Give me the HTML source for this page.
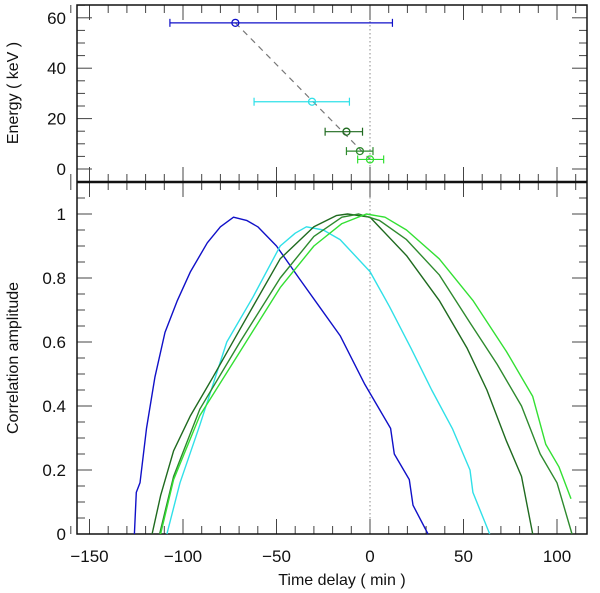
<!DOCTYPE html>
<html><head><meta charset="utf-8"><style>
body{margin:0;background:#fff}
svg{display:block;font-family:"Liberation Sans","DejaVu Sans",sans-serif}
</style></head><body>
<svg id="c" width="600" height="593"></svg>
<script>
const tickX=[-150,-100,-50,0,50,100];
const tickYTop=[0,20,40,60];
const tickYBot=[0,0.2,0.4,0.6,0.8,1];
const tickYBotLabels=["0","0.2","0.4","0.6","0.8","1"];
const energies=[58,26.7,14.8,7.1,3.8];
const delays=[-72,-31,-12.6,-5.4,0];
const errLo=[-107,-62,-24,-12.6,-6.6];
const errHi=[12,-11,-4,1.6,7.3];
const colors=["#1010c8","#30e0e8","#1f6a1f","#2e8a2e","#33e033"];
const blueT=[-126,-125,-123,-119.5,-115,-109.6,-103,-96,-87,-80,-73,-66,-60,-50,-38,-27,-16,-3,4,11,13,21,23,31];
const blueV=[0,0.13,0.16,0.33,0.49,0.63,0.73,0.82,0.91,0.96,0.99,0.98,0.96,0.90,0.80,0.71,0.62,0.47,0.40,0.33,0.25,0.17,0.09,0];
const cyanT=[-108.6,-101.6,-91,-76.6,-62.6,-48,-40,-34,-25,-16,0,10.5,22,33,44,53.5,55,64];
const cyanV=[0,0.16,0.34,0.60,0.74,0.90,0.94,0.96,0.95,0.92,0.82,0.71,0.58,0.45,0.33,0.20,0.13,0];
const dgT=[-116.5,-112,-105,-96,-84,-69.5,-48,-30,-18,-12,0,19.5,37,52,62.5,73,81,87];
const dgV=[0,0.12,0.26,0.37,0.49,0.64,0.86,0.96,0.995,1.0,0.99,0.87,0.73,0.58,0.45,0.29,0.18,0];
const mgT=[-112.5,-105,-91,-69.5,-48,-30,-15,-6,5,19.5,37,53.5,68,81,91,100,108];
const mgV=[0,0.18,0.39,0.60,0.80,0.93,0.99,1.0,0.98,0.92,0.81,0.66,0.53,0.40,0.25,0.16,0];
const lgT=[-112,-105,-91,-69.5,-48,-30,-15,-2,8,19.5,37,55,73,87,94,101,107.5];
const lgV=[0,0.17,0.37,0.57,0.77,0.90,0.97,1.0,0.99,0.95,0.86,0.73,0.57,0.43,0.28,0.21,0.11];

const L=77,R=587,T=5,M=182,B=534;
const X=t=>370+1.87*t;
const YT=e=>169-2.52*e;
const YB=v=>534-320*v;
const svg=document.getElementById('c');
const NS='http://www.w3.org/2000/svg';
function mk(tag,a,parent){const e=document.createElementNS(NS,tag);for(const k in a)e.setAttribute(k,a[k]);(parent||svg).appendChild(e);return e;}
function line(x1,y1,x2,y2,st,w,name,dash){const e=mk('line',{x1,y1,x2,y2,stroke:st,'stroke-width':w||1});if(dash)e.setAttribute('stroke-dasharray',dash);

return e;}
function text(x,y,s,anchor,size,name,rot){const e=mk('text',{x,y,'text-anchor':anchor,'font-size':size,fill:'#111'});e.textContent=s;if(rot)e.setAttribute('transform',rot);

return e;}

line(X(0),T,X(0),B,'#888',1,'zero-delay-line','1.5 2.5');
for(let t=-160;t<=110;t+=10){const maj=t%50===0;const len=maj?15:8;const x=X(t);
 line(x,B,x,B-len,'#444',1,'x-tick-bottom');
 line(x,M,x,M+len,'#444',1,'x-tick-divider-lower');
 line(x,M,x,M-len,'#444',1,'x-tick-divider-upper');
 line(x,T,x,T+len,'#444',1,'x-tick-top');}
tickX.forEach(t=>text(X(t),562,(t<0?'\u2212'+(-t):String(t)),'middle',17,'x-tick-label'));
for(let e=-5;e<=65;e+=5){const maj=e%20===0;const len=maj?15:8;const y=YT(e);if(y<T||y>M)continue;
 line(L,y,L+len,y,'#444',1,'y-tick-top-left');line(R,y,R-len,y,'#444',1,'y-tick-top-right');}
tickYTop.forEach(e=>text(66,YT(e)+6,String(e),'end',17,'y-tick-label-top'));
for(let i=0;i<=22;i++){const v=i*0.05;const maj=i%4===0;const len=maj?15:8;const y=YB(v);if(y<M)continue;
 line(L,y,L+len,y,'#444',1,'y-tick-bottom-left');line(R,y,R-len,y,'#444',1,'y-tick-bottom-right');}
tickYBot.forEach((v,i)=>text(66,YB(v)+6,tickYBotLabels[i],'end',17,'y-tick-label-bottom'));
const fr=mk('rect',{x:L,y:T,width:R-L,height:B-T,fill:'none',stroke:'#111','stroke-width':1.5});


line(L,M,R,M,'#111',2.5,'panel-divider');
text(18,93,'Energy  (  keV  )','middle',16,'y-axis-title-energy','rotate(-90 18 93)');
text(18,358,'Correlation amplitude','middle',16,'y-axis-title-correlation','rotate(-90 18 358)');
text(X(-15),585,'Time delay  (  min  )','middle',16,'x-axis-title');
line(X(delays[0]),YT(energies[0]),X(delays[4]),YT(energies[4]),'#777',1.2,'trend-line','6 5');
energies.forEach((e,i)=>{const y=YT(e),c=colors[i];
 line(X(errLo[i]),y,X(errHi[i]),y,c,1.2,'error-bar');
 line(X(errLo[i]),y-4,X(errLo[i]),y+4,c,1.2,'error-cap-left');
 line(X(errHi[i]),y-4,X(errHi[i]),y+4,c,1.2,'error-cap-right');
 const p=mk('circle',{cx:X(delays[i]),cy:y,r:3.5,fill:'none',stroke:c,'stroke-width':1.3});
 
 });
const series=[[blueT,blueV,colors[0],'curve-blue'],[cyanT,cyanV,colors[1],'curve-cyan'],[dgT,dgV,colors[2],'curve-dark-green'],[mgT,mgV,colors[3],'curve-green'],[lgT,lgV,colors[4],'curve-light-green']];
series.forEach(([ts,vs,c,n])=>{const pts=ts.map((t,i)=>X(t).toFixed(1)+','+YB(vs[i]).toFixed(1)).join(' ');
 const p=mk('polyline',{points:pts,fill:'none',stroke:c,'stroke-width':1.4,'stroke-linejoin':'round'});
 
 });
</script>
</body></html>
